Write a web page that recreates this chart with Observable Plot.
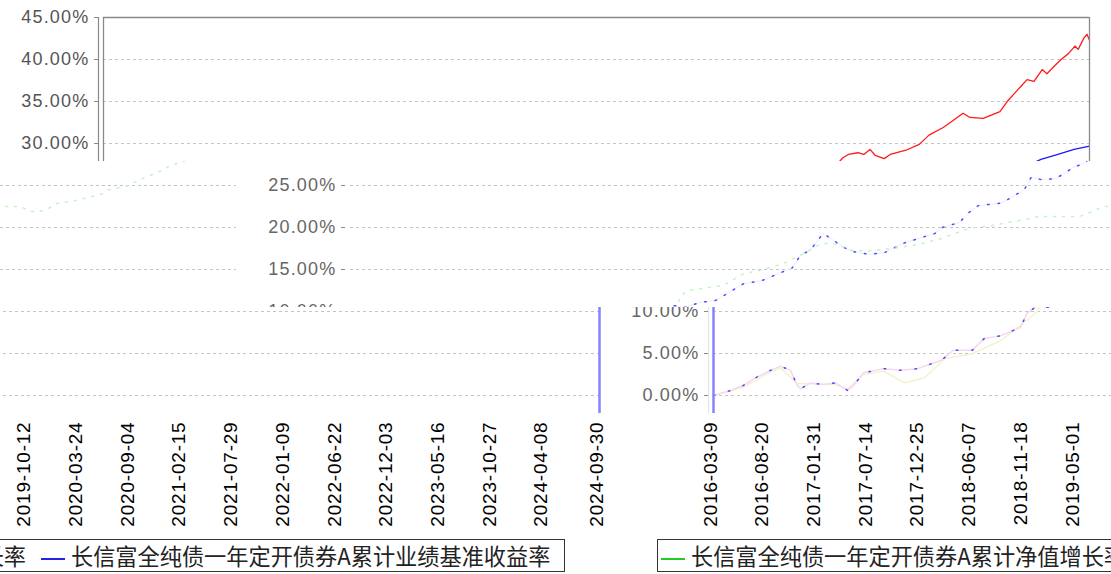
<!DOCTYPE html>
<html><head><meta charset="utf-8">
<script src="https://cdn.jsdelivr.net/npm/d3@7"></script>
<script src="https://cdn.jsdelivr.net/npm/@observablehq/plot@0.6"></script>
<style>
html,body{margin:0;padding:0;background:#fff;}
#root{position:relative;width:1111px;height:574px;overflow:hidden;background:#fff;}
.band{position:absolute;left:0;width:1111px;overflow:hidden;}
.chart{position:absolute;width:1100px;height:574px;}
.chart svg{position:absolute;left:0;top:0;}
g[aria-label="y-axis tick label"]{letter-spacing:1.2px;}
g[aria-label="x-axis tick label"]{letter-spacing:0.8px;}
.legend{position:absolute;left:47px;top:539px;width:1008px;height:33px;box-sizing:border-box;border:1.5px solid #333;font-family:"Noto Sans CJK SC";font-size:22.2px;color:#222;}
.item{position:absolute;top:0;height:30px;line-height:30px;white-space:nowrap;}
.mk{display:inline-block;width:24px;height:2px;vertical-align:middle;margin-right:6px;}
</style></head><body><div id="root"></div><script>
const W = 1100;
const xTickLabels = ["2016-03-09","2016-08-20","2017-01-31","2017-07-14","2017-12-25","2018-06-07","2018-11-18","2019-05-01","2019-10-12","2020-03-24","2020-09-04","2021-02-15","2021-07-29","2022-01-09","2022-06-22","2022-12-03","2023-05-16","2023-10-27","2024-04-08","2024-09-30"];
const yTicks = [0,5,10,15,20,25,30,35,40,45];

const navDates = ["2016-03-09","2016-05-02","2016-06-12","2016-07-20","2016-09-06","2016-10-07","2016-11-08","2016-11-30","2016-12-10","2017-01-10","2017-02-21","2017-03-31","2017-05-08","2017-05-27","2017-06-28","2017-08-30","2017-10-23","2017-12-16","2018-03-02","2018-04-09","2018-06-08","2018-07-16","2018-09-05","2018-11-07","2018-11-29","2018-12-31","2019-02-04","2019-03-24","2019-05-10","2019-08-07","2019-10-06","2020-01-09","2020-02-04","2020-03-06","2020-04-16","2020-05-18","2020-06-09","2020-07-11","2020-09-09","2020-10-27","2020-11-18","2021-01-01","2021-04-06","2021-04-29","2021-06-22","2021-07-23","2021-08-21","2021-10-30","2021-11-21","2022-01-14","2022-02-05","2022-03-09","2022-04-22","2022-05-24","2022-06-15","2022-07-26","2022-08-10","2022-08-27","2022-09-27","2022-10-15","2022-11-04","2022-11-20","2022-12-19","2023-01-07","2023-02-26","2023-04-09","2023-05-10","2023-06-24","2023-07-20","2023-08-26","2023-09-17","2023-10-29","2023-12-21","2024-01-13","2024-02-13","2024-02-28","2024-03-16","2024-04-07","2024-05-03","2024-05-18","2024-06-10","2024-07-02","2024-07-25","2024-08-15","2024-08-25","2024-09-13","2024-09-22","2024-09-30"];
const navValues = [0.0,0.6,1.2,2.1,3.0,3.5,3.0,1.2,0.8,1.5,1.3,1.5,0.6,1.2,2.7,3.2,3.0,3.2,4.2,5.4,5.4,6.8,7.1,8.1,9.8,10.7,10.5,11.1,11.3,13.3,13.7,15.2,16.7,17.3,19.3,18.5,17.9,17.2,16.8,17.0,17.4,18.2,19.3,20.0,20.6,21.8,22.6,22.9,23.3,24.5,26.0,25.7,25.8,26.5,27.1,27.7,28.3,28.7,28.9,28.7,29.3,28.6,28.2,28.7,29.2,29.9,31.0,31.9,32.6,33.6,33.1,33.0,33.8,35.0,36.3,36.9,37.6,37.4,38.8,38.3,39.2,40.0,40.7,41.6,41.2,42.6,43.0,42.3];

const benchDates = ["2016-03-09","2016-06-12","2016-09-06","2016-10-07","2016-11-30","2017-01-10","2017-03-31","2017-05-08","2017-06-28","2017-08-30","2017-11-05","2018-01-07","2018-03-14","2018-06-08","2018-09-05","2018-11-29","2018-12-31","2019-01-20","2019-02-09","2019-06-04","2019-08-07","2019-09-30","2019-12-12","2020-02-04","2020-04-01","2020-05-09","2020-07-11","2020-09-09","2020-12-10","2021-02-12","2021-04-19","2021-07-23","2021-09-28","2022-02-05","2022-02-27","2022-07-07","2022-08-17","2022-09-21","2022-11-14","2022-12-19","2023-01-29","2023-03-14","2023-05-07","2023-08-01","2023-08-23","2023-10-16","2023-11-29","2024-02-13","2024-02-29","2024-04-17","2024-04-29","2024-06-22","2024-08-12","2024-09-30"];
const benchValues = [0.0,1.0,2.8,3.3,1.4,1.4,1.3,0.8,2.5,2.9,1.5,2.1,4.4,5.0,6.5,9.0,10.0,11.8,12.5,13.1,14.5,14.9,15.7,16.7,17.9,18.2,17.3,17.2,17.6,18.0,18.6,19.9,20.2,21.1,21.3,21.3,21.9,22.5,22.5,21.9,22.0,22.9,23.2,24.0,24.5,24.9,25.7,26.9,27.3,27.9,28.1,28.7,29.3,29.7];

const legendLabels = ["长信富全纯债一年定开债券A累计净值增长率","长信富全纯债一年定开债券A累计业绩基准收益率"];
const legendColors = ["#22cc22","#2424e0"];

const parse = d3.utcParse("%Y-%m-%d");
const nav = navDates.map((d,i)=>({date:parse(d), value:navValues[i]}));
const bench = benchDates.map((d,i)=>({date:parse(d), value:benchValues[i]}));
const xTicks = xTickLabels.map(parse);
const xStart = xTicks[0], xEnd = xTicks[xTicks.length-1];

const variants = {
  clean: {frame:"#8a8a8a", frameW:1.3, axisLine:"#8a8a8a", label:"#555",
    lines:[{data:bench, stroke:"#1a1aff", w:1.3},{data:nav, stroke:"#ff1a1a", w:1.3}]},
  b2: {frame:null, axisLine:null, label:"#666",
    lines:[{data:nav, stroke:"#ececff", w:1},{data:nav, stroke:"#4a4aff", w:1.5, dash:"1.5,9"},{data:bench, stroke:"#c4f2c4", w:1.5, dash:"2,7"}]},
  b3: {frame:"#8484ff", frameW:2.5, axisLine:"#e4e4e4", label:"#666",
    lines:[{data:bench, stroke:"#f0f2c8", w:1.3},{data:nav, stroke:"#f6d6f0", w:1.5},{data:nav, stroke:"#4a4aff", w:1.5, dash:"1.5,14"}]}
};

function buildChart(v){
  const marks = [Plot.ruleY(yTicks, {stroke:"#c4c4c4", strokeDasharray:"3,3", strokeWidth:1})];
  for (const l of v.lines) marks.push(Plot.line(l.data, {x:"date", y:"value", stroke:l.stroke, strokeWidth:l.w, strokeDasharray:l.dash}));
  if (v.frame) {
    marks.push(Plot.ruleX([xStart, xEnd], {stroke:v.frame, strokeWidth:v.frameW}));
    marks.push(Plot.ruleY([45], {stroke:v.frame, strokeWidth:1.3}));
  }
  if (v.axisLine) marks.push(Plot.ruleX([xStart], {dx:-5, stroke:v.axisLine, strokeWidth:1.2}));
  marks.push(Plot.axisY({ticks:yTicks, tickFormat:d=>d.toFixed(2)+"%", tickSize:4, tickPadding:5, dx:-5, fontSize:18, color:v.label, stroke:"#888", label:null}));
  marks.push(Plot.axisX({ticks:xTicks, tickFormat:d3.utcFormat("%Y-%m-%d"), tickRotate:-90, tickSize:0, tickPadding:8, dx:-3, fontSize:19, color:"#000", label:null}));
  const svg = Plot.plot({
    width:W, height:541, marginLeft:103, marginRight:11, marginTop:17, marginBottom:128,
    x:{type:"utc", domain:[xStart, xEnd]},
    y:{domain:[-2.14, 45]},
    style:{fontFamily:"Liberation Sans", background:"transparent", overflow:"visible"},
    marks
  });
  const div = document.createElement("div");
  div.className = "chart";
  div.appendChild(svg);
  const lg = document.createElement("div");
  lg.className = "legend";
  const lefts = [3, 483];
  legendLabels.forEach((t,i)=>{
    const it = document.createElement("div");
    it.className = "item";
    it.style.left = lefts[i] + "px";
    const mk = document.createElement("span");
    mk.className = "mk"; mk.style.background = legendColors[i];
    it.appendChild(mk);
    it.appendChild(document.createTextNode(t));
    lg.appendChild(it);
  });
  div.appendChild(lg);
  return div;
}

const built = {clean: buildChart(variants.clean), b2: buildChart(variants.b2), b3: buildChart(variants.b3)};
const bands = [
  {y0:0, y1:161, shift:0, v:"clean"},
  {y0:161, y1:307, shift:247, v:"b2"},
  {y0:307, y1:413, shift:610, v:"b3"},
  {y0:413, y1:574, shift:610, v:"clean"}
];
const root = document.getElementById("root");
for (const b of bands){
  const band = document.createElement("div");
  band.className = "band";
  band.style.top = b.y0 + "px";
  band.style.height = (b.y1 - b.y0) + "px";
  for (const off of [b.shift - W, b.shift, b.shift + W]){
    const c = built[b.v].cloneNode(true);
    c.style.left = off + "px";
    c.style.top = (-b.y0) + "px";
    band.appendChild(c);
  }
  root.appendChild(band);
}
</script></body></html>
